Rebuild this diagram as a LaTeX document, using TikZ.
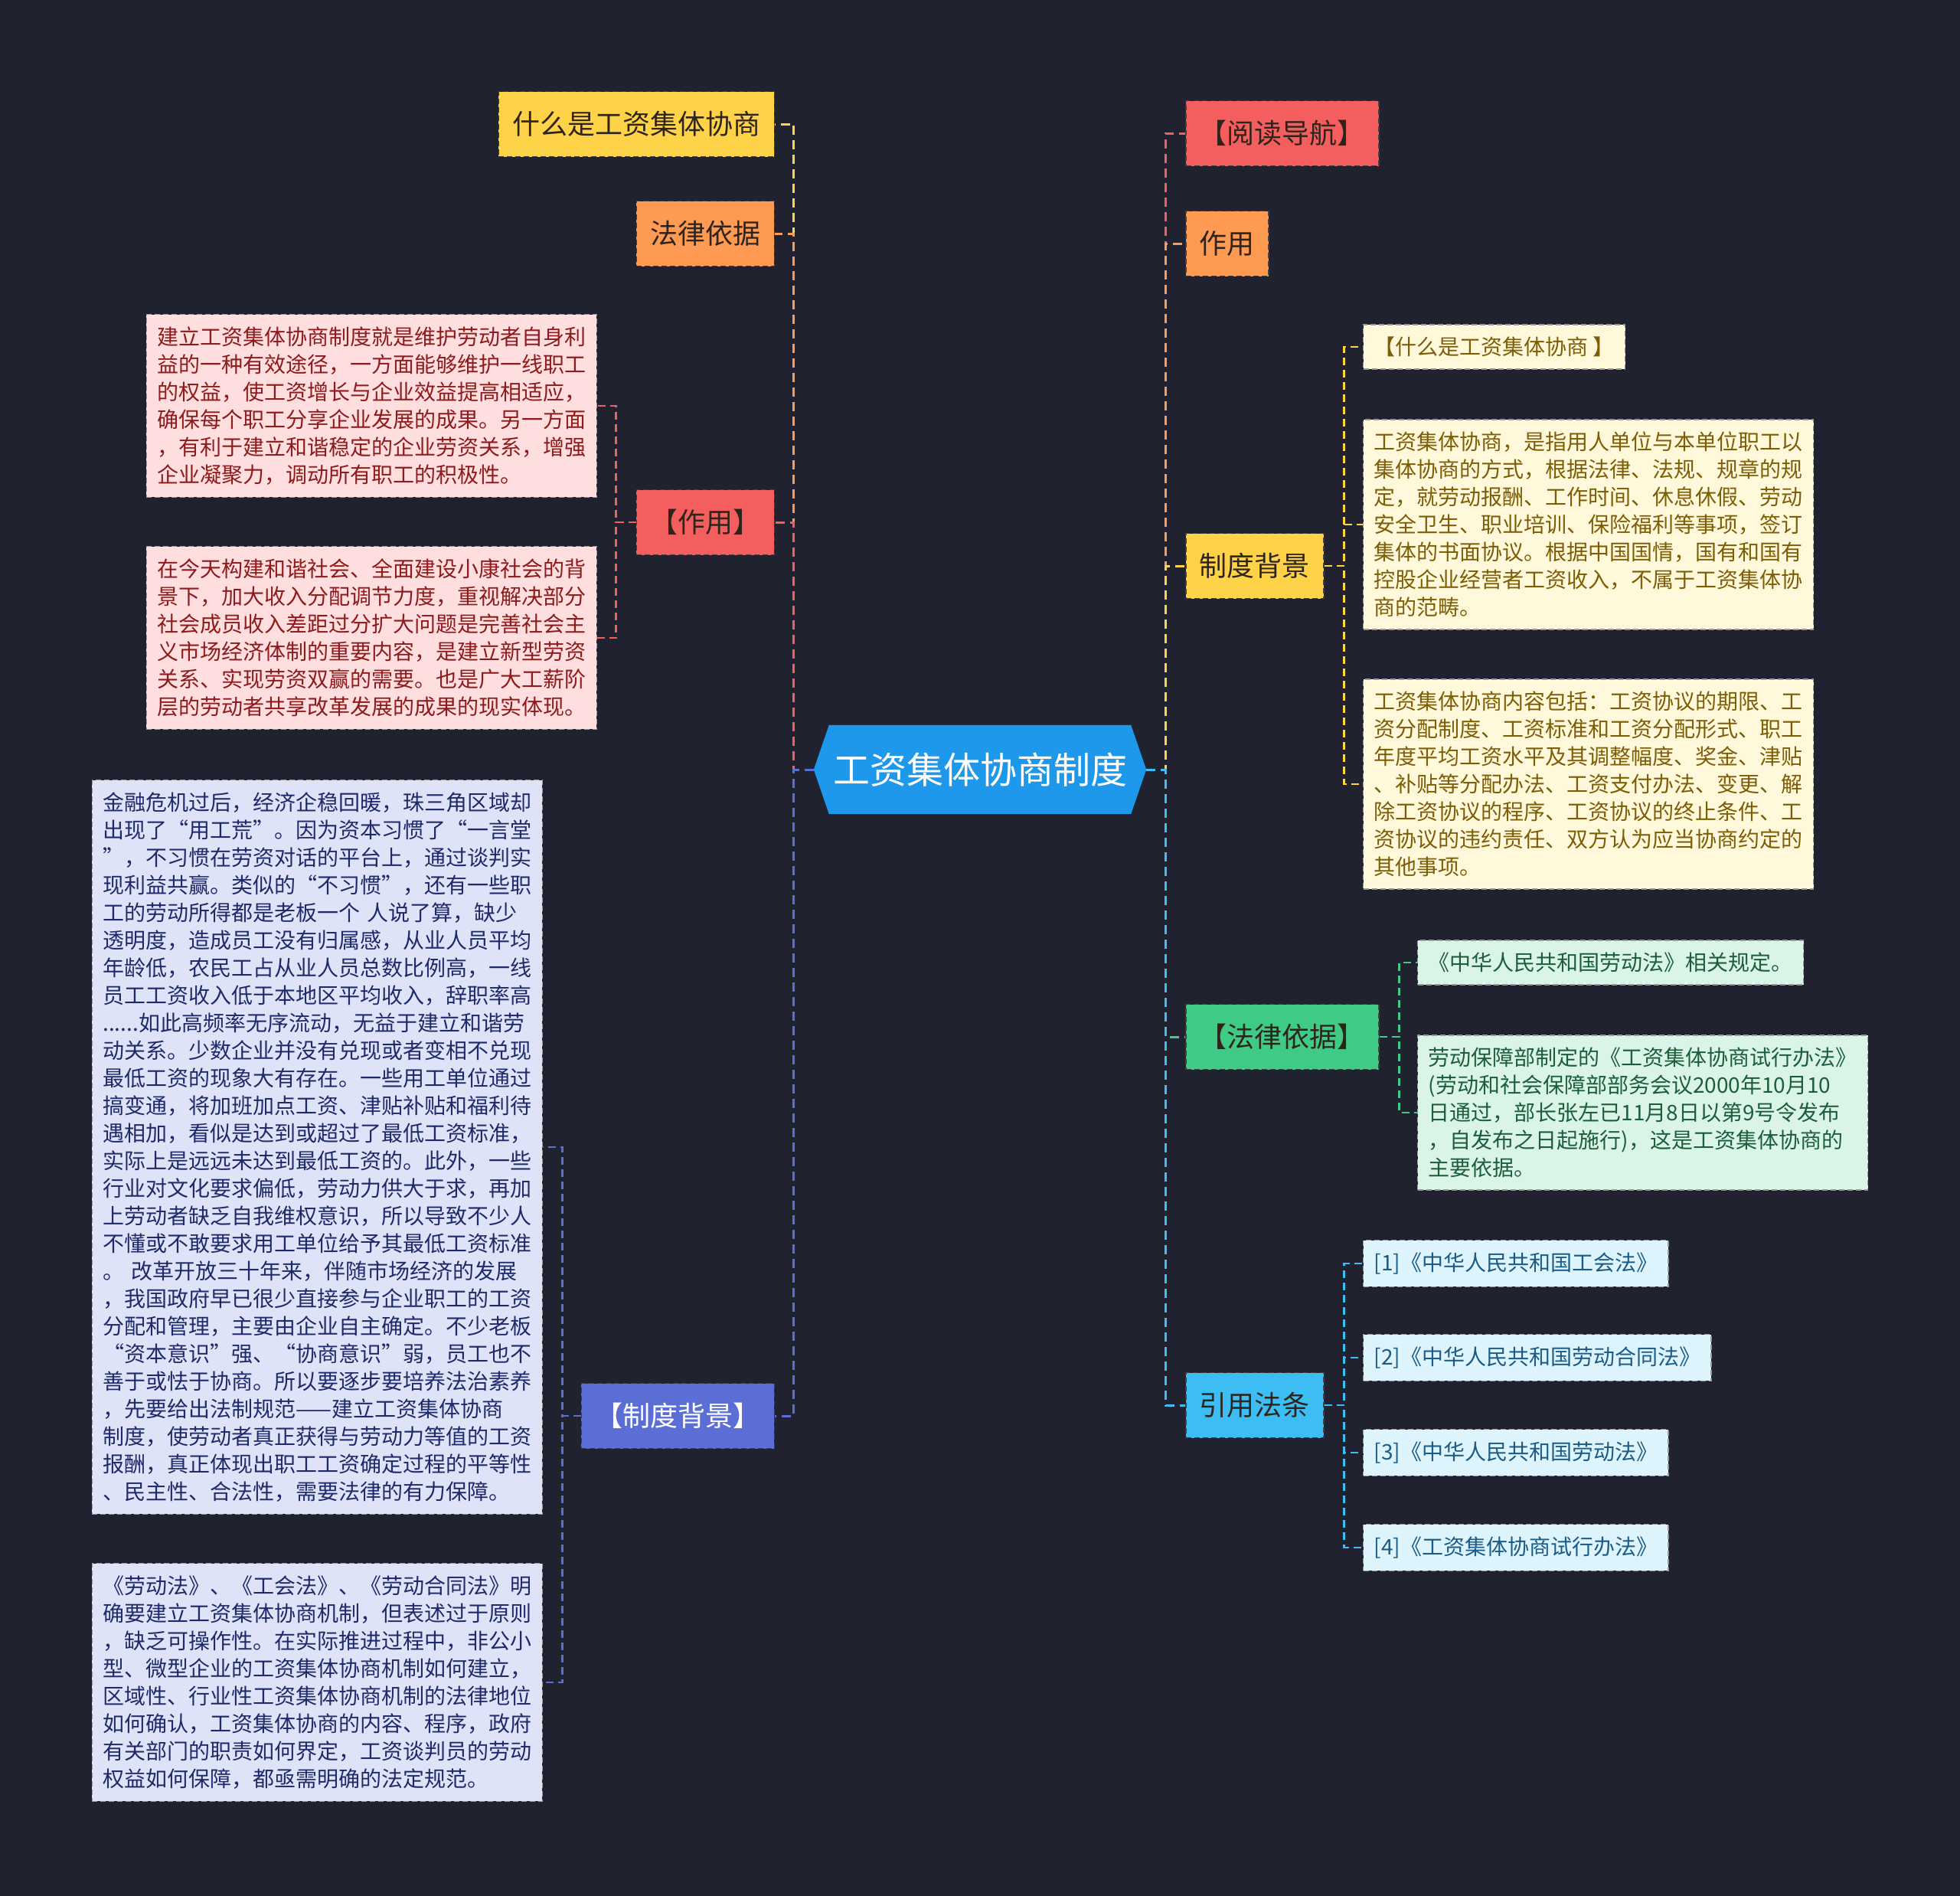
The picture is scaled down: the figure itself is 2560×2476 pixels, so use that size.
\documentclass[tikz,border=0pt]{standalone}
\usepackage{fontspec}
\setmainfont{Noto Sans CJK SC}
\pgfdeclarelayer{bg}
\pgfsetlayers{bg,main}
\definecolor{bgc}{HTML}{20232F}
\definecolor{croot}{HTML}{1E98EA}
\definecolor{cyel}{HTML}{FFD347}
\definecolor{corg}{HTML}{FF9A52}
\definecolor{cred}{HTML}{F45E5E}
\definecolor{cind}{HTML}{5B6ED6}
\definecolor{cgrn}{HTML}{3FCB86}
\definecolor{ccyan}{HTML}{3CBEF4}
\definecolor{ctxt}{HTML}{2E241C}
\definecolor{fpink}{HTML}{FFDEE0}
\definecolor{tpink}{HTML}{8E1B1B}
\definecolor{flav}{HTML}{DFE3F7}
\definecolor{tlav}{HTML}{1F2A6A}
\definecolor{fcream}{HTML}{FFF8DA}
\definecolor{tcream}{HTML}{7D5E06}
\definecolor{fmint}{HTML}{DAF5E8}
\definecolor{tmint}{HTML}{1C5E3C}
\definecolor{fblue}{HTML}{DDF4FD}
\definecolor{tblue}{HTML}{1B5B86}
\begin{document}
\begin{tikzpicture}[x=1pt,y=-1pt,
  rootnode/.style={minimum width=434pt, minimum height=116pt, inner sep=0pt, text=white, font=\fontsize{48}{56}\selectfont},
  topic/.style 2 args={fill=#1, draw=black!75, line width=1.5pt, dash pattern=on 7pt off 4pt, text=#2, font=\fontsize{36}{44}\selectfont, inner xsep=18pt, inner ysep=0pt, minimum height=85pt},
  leaf/.style 2 args={fill=#1, draw=black!40, line width=1.2pt, dash pattern=on 7pt off 4pt, text=#2, font=\fontsize{28}{36}\selectfont, inner xsep=14pt, inner ysep=16pt, align=left},
  para/.style 2 args={leaf={#1}{#2}, text width=560pt},
  conn/.style={draw=#1, line width=3pt, dash pattern=on 12pt off 7pt},
  subconn/.style={draw=#1, line width=2.2pt, dash pattern=on 10pt off 6pt}
]
\useasboundingbox (0,0) rectangle (2560,2476);

% root
\node[rootnode] (root) at (1280,1005) {工资集体协商制度};

% left topics
\node[topic={cyel}{ctxt}, anchor=east] (l1) at (1012,162) {什么是工资集体协商};
\node[topic={corg}{ctxt}, anchor=east] (l2) at (1012,305) {法律依据};
\node[topic={cred}{ctxt}, anchor=east] (l3) at (1012,682) {【作用】};
\node[topic={cind}{white}, anchor=east] (l4) at (1012,1849) {【制度背景】};

% left leaves
\node[para={fpink}{tpink}, anchor=east] (p1) at (780,530) {建立工资集体协商制度就是维护劳动者自身利\\益的一种有效途径，一方面能够维护一线职工\\的权益，使工资增长与企业效益提高相适应，\\确保每个职工分享企业发展的成果。另一方面\\，有利于建立和谐稳定的企业劳资关系，增强\\企业凝聚力，调动所有职工的积极性。};
\node[para={fpink}{tpink}, anchor=east] (p2) at (780,833) {在今天构建和谐社会、全面建设小康社会的背\\景下，加大收入分配调节力度，重视解决部分\\社会成员收入差距过分扩大问题是完善社会主\\义市场经济体制的重要内容，是建立新型劳资\\关系、实现劳资双赢的需要。也是广大工薪阶\\层的劳动者共享改革发展的成果的现实体现。};

\node[para={flav}{tlav}, anchor=east] (b1) at (709,1498) {金融危机过后，经济企稳回暖，珠三角区域却\\出现了“用工荒”。因为资本习惯了“一言堂\\”，不习惯在劳资对话的平台上，通过谈判实\\现利益共赢。类似的“不习惯”，还有一些职\\工的劳动所得都是老板一个 人说了算，缺少\\透明度，造成员工没有归属感，从业人员平均\\年龄低，农民工占从业人员总数比例高，一线\\员工工资收入低于本地区平均收入，辞职率高\\......如此高频率无序流动，无益于建立和谐劳\\动关系。少数企业并没有兑现或者变相不兑现\\最低工资的现象大有存在。一些用工单位通过\\搞变通，将加班加点工资、津贴补贴和福利待\\遇相加，看似是达到或超过了最低工资标准，\\实际上是远远未达到最低工资的。此外，一些\\行业对文化要求偏低，劳动力供大于求，再加\\上劳动者缺乏自我维权意识，所以导致不少人\\不懂或不敢要求用工单位给予其最低工资标准\\。 改革开放三十年来，伴随市场经济的发展\\，我国政府早已很少直接参与企业职工的工资\\分配和管理，主要由企业自主确定。不少老板\\“资本意识”强、“协商意识”弱，员工也不\\善于或怯于协商。所以要逐步要培养法治素养\\，先要给出法制规范——建立工资集体协商\\制度，使劳动者真正获得与劳动力等值的工资\\报酬，真正体现出职工工资确定过程的平等性\\、民主性、合法性，需要法律的有力保障。};
\node[para={flav}{tlav}, anchor=east] (b2) at (709,2197) {《劳动法》、《工会法》、《劳动合同法》明\\确要建立工资集体协商机制，但表述过于原则\\，缺乏可操作性。在实际推进过程中，非公小\\型、微型企业的工资集体协商机制如何建立，\\区域性、行业性工资集体协商机制的法律地位\\如何确认，工资集体协商的内容、程序，政府\\有关部门的职责如何界定，工资谈判员的劳动\\权益如何保障，都亟需明确的法定规范。};

% right topics
\node[topic={cred}{ctxt}, anchor=west] (r1) at (1548,174) {【阅读导航】};
\node[topic={corg}{ctxt}, anchor=west] (r2) at (1548,318) {作用};
\node[topic={cyel}{ctxt}, anchor=west] (r3) at (1548,739) {制度背景};
\node[topic={cgrn}{ctxt}, anchor=west] (r4) at (1548,1354) {【法律依据】};
\node[topic={ccyan}{ctxt}, anchor=west] (r5) at (1548,1835) {引用法条};

% right leaves
\node[leaf={fcream}{tcream}, anchor=west] (y1) at (1780,453) {【什么是工资集体协商 】};
\node[para={fcream}{tcream}, anchor=west] (y2) at (1780,685) {工资集体协商，是指用人单位与本单位职工以\\集体协商的方式，根据法律、法规、规章的规\\定，就劳动报酬、工作时间、休息休假、劳动\\安全卫生、职业培训、保险福利等事项，签订\\集体的书面协议。根据中国国情，国有和国有\\控股企业经营者工资收入，不属于工资集体协\\商的范畴。};
\node[para={fcream}{tcream}, anchor=west] (y3) at (1780,1024) {工资集体协商内容包括：工资协议的期限、工\\资分配制度、工资标准和工资分配形式、职工\\年度平均工资水平及其调整幅度、奖金、津贴\\、补贴等分配办法、工资支付办法、变更、解\\除工资协议的程序、工资协议的终止条件、工\\资协议的违约责任、双方认为应当协商约定的\\其他事项。};

\node[leaf={fmint}{tmint}, anchor=west] (g1) at (1851,1257) {《中华人民共和国劳动法》相关规定。};
\node[para={fmint}{tmint}, anchor=west] (g2) at (1851,1453) {劳动保障部制定的《工资集体协商试行办法》\\(劳动和社会保障部部务会议2000年10月10\\日通过，部长张左已11月8日以第9号令发布\\，自发布之日起施行)，这是工资集体协商的\\主要依据。};

\node[leaf={fblue}{tblue}, anchor=west] (c1) at (1780,1650) {[1]《中华人民共和国工会法》};
\node[leaf={fblue}{tblue}, anchor=west] (c2) at (1780,1773) {[2]《中华人民共和国劳动合同法》};
\node[leaf={fblue}{tblue}, anchor=west] (c3) at (1780,1897) {[3]《中华人民共和国劳动法》};
\node[leaf={fblue}{tblue}, anchor=west] (c4) at (1780,2021) {[4]《工资集体协商试行办法》};

\begin{pgfonlayer}{bg}
\fill[bgc] (0,0) rectangle (2560,2476);
\fill[croot] (root.west) -- ([xshift=20pt]root.north west) -- ([xshift=-20pt]root.north east) -- (root.east) -- ([xshift=-20pt]root.south east) -- ([xshift=20pt]root.south west) -- cycle;
% left main connectors
\draw[conn=cyel] (root.west) -- ++(-26,0) |- (l1.east);
\draw[conn=corg] (root.west) -- ++(-26,0) |- (l2.east);
\draw[conn=cred] (root.west) -- ++(-26,0) |- (l3.east);
\draw[conn=cind] (root.west) -- ++(-26,0) |- (l4.east);
% right main connectors
\draw[conn=cred] (root.east) -- ++(25,0) |- (r1.west);
\draw[conn=corg] (root.east) -- ++(25,0) |- (r2.west);
\draw[conn=cyel] (root.east) -- ++(25,0) |- (r3.west);
\draw[conn=cgrn] (root.east) -- ++(25,0) |- (r4.west);
\draw[conn=ccyan] (root.east) -- ++(25,0) |- (r5.west);
% sub connectors
\draw[subconn=cred] (l3.west) -- ++(-26,0) |- (p1.east);
\draw[subconn=cred] (l3.west) -- ++(-26,0) |- (p2.east);
\draw[subconn=cind] (l4.west) -- ++(-24,0) |- (b1.east);
\draw[subconn=cind] (l4.west) -- ++(-24,0) |- (b2.east);
\draw[subconn=cyel] (r3.east) -- ++(26,0) |- (y1.west);
\draw[subconn=cyel] (r3.east) -- ++(26,0) |- (y2.west);
\draw[subconn=cyel] (r3.east) -- ++(26,0) |- (y3.west);
\draw[subconn=cgrn] (r4.east) -- ++(26,0) |- (g1.west);
\draw[subconn=cgrn] (r4.east) -- ++(26,0) |- (g2.west);
\draw[subconn=ccyan] (r5.east) -- ++(26,0) |- (c1.west);
\draw[subconn=ccyan] (r5.east) -- ++(26,0) |- (c2.west);
\draw[subconn=ccyan] (r5.east) -- ++(26,0) |- (c3.west);
\draw[subconn=ccyan] (r5.east) -- ++(26,0) |- (c4.west);
\end{pgfonlayer}
\end{tikzpicture}
\end{document}
